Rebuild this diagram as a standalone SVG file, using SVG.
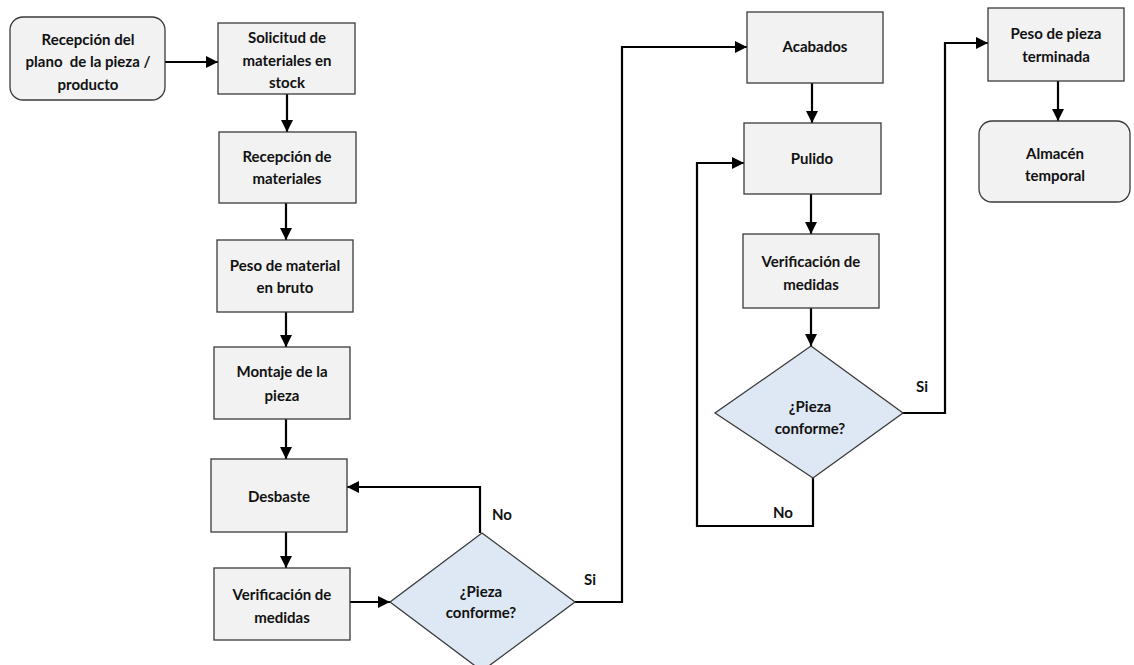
<svg xmlns="http://www.w3.org/2000/svg" width="1134" height="665" viewBox="0 0 1134 665">
  <style>
    .box { fill: #f2f2f2; stroke: #3a3a3a; stroke-width: 1.3; }
    .term { fill: #f2f2f2; stroke: #3a3a3a; stroke-width: 1.3; }
    .dec { fill: #dde8f4; stroke: #3a3a3a; stroke-width: 1.3; }
    .lbl { font-family: Lato, "Liberation Sans", sans-serif; font-weight: bold; font-size: 15px; fill: #111; text-anchor: middle; white-space: pre; }
    .edge { fill: none; stroke: #000; stroke-width: 2.2; }
    .tag { font-family: Lato, "Liberation Sans", sans-serif; font-weight: bold; font-size: 15px; fill: #111; }
  </style>
  <defs>
    <marker id="arrow" markerUnits="userSpaceOnUse" markerWidth="12" markerHeight="12" viewBox="0 0 12 12" refX="12" refY="6" orient="auto">
      <path d="M0,0 L12,6 L0,12 Z" fill="#000"/>
    </marker>
  </defs>
  <rect width="1134" height="665" fill="#fff"/>

  <!-- connectors -->
  <g id="connectors">
    <path class="edge" d="M165,62 H218" marker-end="url(#arrow)"/>
    <path class="edge" d="M287,94 V132" marker-end="url(#arrow)"/>
    <path class="edge" d="M286,203 V240" marker-end="url(#arrow)"/>
    <path class="edge" d="M286,312 V347" marker-end="url(#arrow)"/>
    <path class="edge" d="M286,419 V459" marker-end="url(#arrow)"/>
    <path class="edge" d="M286,532 V568" marker-end="url(#arrow)"/>
    <path class="edge" d="M350,602 H390" marker-end="url(#arrow)"/>
    <!-- first check: rework loop back to roughing -->
    <path class="edge" d="M480,533 V487 H347" marker-end="url(#arrow)"/>
    <!-- first check: accepted, on to finishing -->
    <path class="edge" d="M575,602 H622 V47 H747" marker-end="url(#arrow)"/>
    <path class="edge" d="M812,83 V123" marker-end="url(#arrow)"/>
    <path class="edge" d="M811,194 V234" marker-end="url(#arrow)"/>
    <path class="edge" d="M811,308 V346" marker-end="url(#arrow)"/>
    <!-- second check: rework loop back to polishing -->
    <path class="edge" d="M813,478 V526 H697 V163 H744" marker-end="url(#arrow)"/>
    <!-- second check: accepted, on to final weighing -->
    <path class="edge" d="M903,413 H945 V43 H988" marker-end="url(#arrow)"/>
    <path class="edge" d="M1058,81 V121" marker-end="url(#arrow)"/>
    <text class="tag" x="492" y="520">No</text>
    <text class="tag" x="584" y="585">Si</text>
    <text class="tag" x="773" y="518">No</text>
    <text class="tag" x="916" y="392">Si</text>
  </g>

  <g id="n-recepcion-plano">
    <rect class="term" x="10" y="17" width="155" height="83" rx="13"/>
    <text class="lbl" x="88" y="45">Recepción del</text>
    <text class="lbl" x="88" y="67">plano  de la pieza /</text>
    <text class="lbl" x="88" y="90">producto</text>
  </g>
  <g id="n-solicitud">
    <rect class="box" x="218" y="23" width="137" height="71"/>
    <text class="lbl" x="287" y="43">Solicitud de</text>
    <text class="lbl" x="287" y="66">materiales en</text>
    <text class="lbl" x="287" y="88">stock</text>
  </g>
  <g id="n-recepcion-materiales">
    <rect class="box" x="219" y="132" width="137" height="71"/>
    <text class="lbl" x="287" y="162">Recepción de</text>
    <text class="lbl" x="287" y="184">materiales</text>
  </g>
  <g id="n-peso-bruto">
    <rect class="box" x="217" y="240" width="136" height="72"/>
    <text class="lbl" x="285" y="271">Peso de material</text>
    <text class="lbl" x="285" y="293">en bruto</text>
  </g>
  <g id="n-montaje">
    <rect class="box" x="214" y="347" width="136" height="72"/>
    <text class="lbl" x="282" y="377">Montaje de la</text>
    <text class="lbl" x="282" y="401">pieza</text>
  </g>
  <g id="n-desbaste">
    <rect class="box" x="211" y="459" width="136" height="73"/>
    <text class="lbl" x="279" y="502">Desbaste</text>
  </g>
  <g id="n-verificacion-1">
    <rect class="box" x="214" y="568" width="136" height="72"/>
    <text class="lbl" x="282" y="600">Verificación de</text>
    <text class="lbl" x="282" y="623">medidas</text>
  </g>
  <g id="n-conforme-1">
    <polygon class="dec" points="482,533 575,602 482,671 390,602"/>
    <text class="lbl" x="481" y="597">¿Pieza</text>
    <text class="lbl" x="481" y="618">conforme?</text>
  </g>
  <g id="n-acabados">
    <rect class="box" x="747" y="12" width="136" height="71"/>
    <text class="lbl" x="815" y="52">Acabados</text>
  </g>
  <g id="n-pulido">
    <rect class="box" x="744" y="123" width="137" height="71"/>
    <text class="lbl" x="812" y="164">Pulido</text>
  </g>
  <g id="n-verificacion-2">
    <rect class="box" x="743" y="234" width="136" height="74"/>
    <text class="lbl" x="811" y="267">Verificación de</text>
    <text class="lbl" x="811" y="290">medidas</text>
  </g>
  <g id="n-conforme-2">
    <polygon class="dec" points="811,346 903,413 813,478 715,413"/>
    <text class="lbl" x="810" y="412">¿Pieza</text>
    <text class="lbl" x="810" y="434">conforme?</text>
  </g>
  <g id="n-peso-terminada">
    <rect class="box" x="988" y="8" width="136" height="73"/>
    <text class="lbl" x="1056" y="39">Peso de pieza</text>
    <text class="lbl" x="1056" y="62">terminada</text>
  </g>
  <g id="n-almacen">
    <rect class="term" x="979" y="121" width="151" height="81" rx="13"/>
    <text class="lbl" x="1055" y="159">Almacén</text>
    <text class="lbl" x="1055" y="181">temporal</text>
  </g>
</svg>
